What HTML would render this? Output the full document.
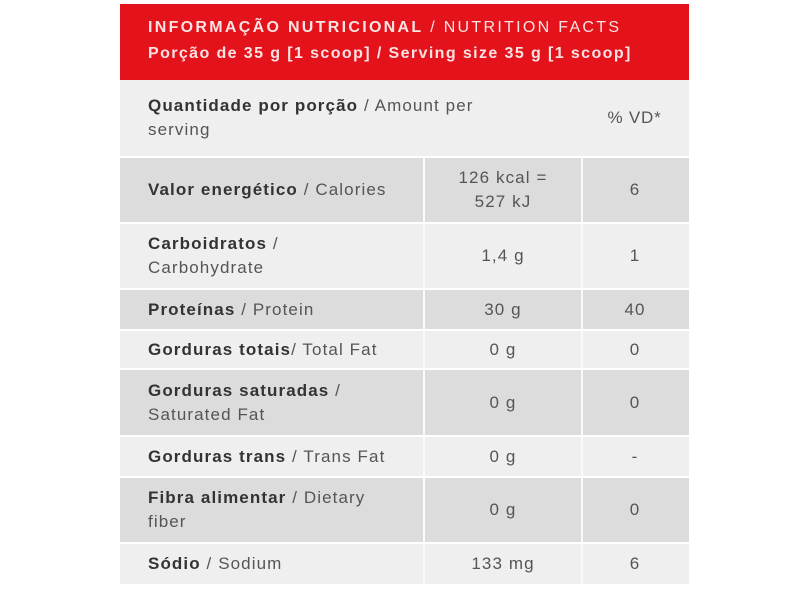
<!DOCTYPE html>
<html><head><meta charset="utf-8"><style>
body{margin:0;width:810px;height:590px;background:#fff;font-family:"Liberation Sans",sans-serif;position:relative;overflow:hidden}
.hd{position:absolute;left:120px;top:4px;width:569px;height:76px;background:#e3121b;color:#fbe3e3;font-size:16px;letter-spacing:1.4px;line-height:26px;box-sizing:border-box;padding:11px 0 0 28px;white-space:nowrap}
.hd b{font-weight:bold;color:#fbe3e3}
.r{position:absolute;left:120px;width:569px;color:#555;font-size:17px;letter-spacing:1.1px}
.l{background:#efefef}.d{background:#dcdcdc}
.c{position:absolute;top:0;bottom:0;display:flex;align-items:center;line-height:24px}
.c1{left:0;width:301px;padding-left:28px;box-sizing:border-box;white-space:nowrap}
.c2{left:303px;width:156px;justify-content:center;text-align:center;border-left:2px solid #fafafa;border-right:2px solid #fafafa}
.c3{left:461px;width:108px;justify-content:center}
b{color:#333}
</style></head><body>
<div class="hd"><span style="letter-spacing:2.3px"><b>INFORMAÇÃO NUTRICIONAL</b> / NUTRITION FACTS</span><br><b>Porção de 35 g [1 scoop] / Serving size 35 g [1 scoop]</b></div>
<div class="r l" style="top:80px;height:76px"><div class="c c1" style="width:420px"><span><b>Quantidade por porção</b> / Amount per<br>serving</span></div><div class="c c3" style="left:450px;width:129px;letter-spacing:0.8px">% VD*</div></div>
<div class="r d" style="top:158px;height:64px"><div class="c c1"><span><b>Valor energético</b> / Calories</span></div><div class="c c2">126 kcal =<br>527 kJ</div><div class="c c3">6</div></div>
<div class="r l" style="top:224px;height:64px"><div class="c c1"><span><b>Carboidratos</b> /<br>Carbohydrate</span></div><div class="c c2">1,4 g</div><div class="c c3">1</div></div>
<div class="r d" style="top:290px;height:39px"><div class="c c1"><span><b>Proteínas</b> / Protein</span></div><div class="c c2">30 g</div><div class="c c3">40</div></div>
<div class="r l" style="top:331px;height:37px"><div class="c c1"><span><b>Gorduras totais</b>/ Total Fat</span></div><div class="c c2">0 g</div><div class="c c3">0</div></div>
<div class="r d" style="top:370px;height:65px"><div class="c c1"><span><b>Gorduras saturadas</b> /<br>Saturated Fat</span></div><div class="c c2">0 g</div><div class="c c3">0</div></div>
<div class="r l" style="top:437px;height:39px"><div class="c c1"><span><b>Gorduras trans</b> / Trans Fat</span></div><div class="c c2">0 g</div><div class="c c3">-</div></div>
<div class="r d" style="top:478px;height:64px"><div class="c c1"><span><b>Fibra alimentar</b> / Dietary<br>fiber</span></div><div class="c c2">0 g</div><div class="c c3">0</div></div>
<div class="r l" style="top:544px;height:40px"><div class="c c1"><span><b>Sódio</b> / Sodium</span></div><div class="c c2">133 mg</div><div class="c c3">6</div></div>
</body></html>
